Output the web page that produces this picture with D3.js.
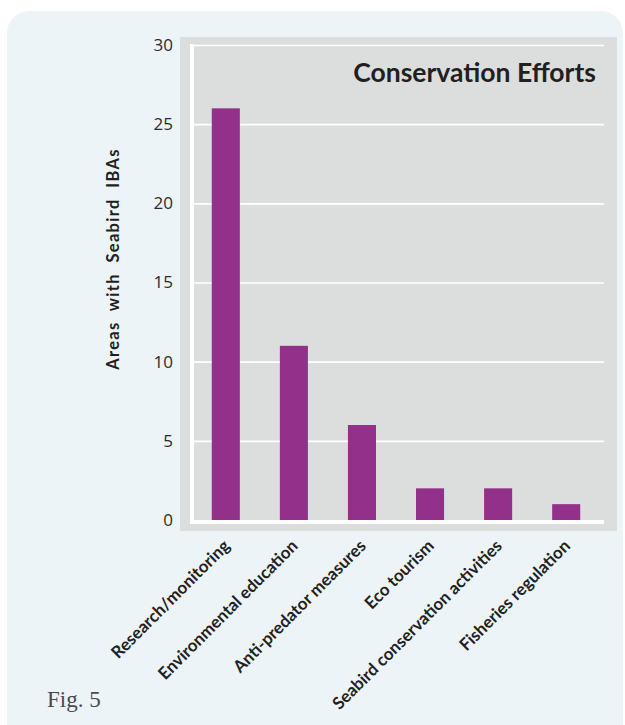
<!DOCTYPE html>
<html>
<head>
<meta charset="utf-8">
<script src="https://cdn.jsdelivr.net/npm/d3@7"></script>
<style>
  html, body { margin: 0; padding: 0; background: #ffffff; }
  svg { display: block; }
</style>
</head>
<body>
<svg id="chart" width="625" height="725"></svg>
<script>
// ---- data ----
const categories = [
  "Research/monitoring",
  "Environmental education",
  "Anti-predator measures",
  "Eco tourism",
  "Seabird conservation activities",
  "Fisheries regulation"
];
const values = [26, 11, 6, 2, 2, 1];
const yTicks = [0, 5, 10, 15, 20, 25, 30];
const chartTitle = "Conservation Efforts";
const yLabel = "Areas  with  Seabird  IBAs";
const figLabel = "Fig. 5";

// ---- layout ----
const svg = d3.select("#chart");
const plot = { left: 192, right: 604, top: 45, bottom: 520 };

svg.append("rect")
  .attr("x", 7).attr("y", 11).attr("width", 616).attr("height", 740)
  .attr("rx", 22).attr("fill", "#edf4f8");

svg.append("rect")
  .attr("x", 180).attr("y", 37).attr("width", 437).attr("height", 494)
  .attr("fill", "#dcdddd");

const x = d3.scaleBand()
  .domain(categories)
  .range([190, 602])
  .paddingInner(0.588)
  .paddingOuter(0.32);

const y = d3.scaleLinear()
  .domain([0, 30])
  .range([plot.bottom, plot.top]);

// y axis with grid lines
const yAxis = svg.append("g")
  .attr("transform", `translate(194,0)`)
  .call(d3.axisLeft(y)
    .tickValues(yTicks)
    .tickSize(-(plot.right - 194))
    .tickPadding(21));
yAxis.select(".domain").remove();
yAxis.selectAll(".tick line")
  .attr("stroke", "#ffffff")
  .attr("stroke-width", 1.6)
  .filter(d => d === 0).remove();
yAxis.selectAll(".tick text")
  .attr("fill", "#2b2b2b")
  .attr("font-family", "'Open Sans', sans-serif")
  .attr("font-size", 17);

// bars
svg.append("g").selectAll("rect")
  .data(values)
  .join("rect")
  .attr("x", (d, i) => x(categories[i]))
  .attr("width", x.bandwidth())
  .attr("y", d => y(d))
  .attr("height", d => y(0) - y(d))
  .attr("fill", "#92308a");

// white L axis lines
svg.append("line")
  .attr("x1", 192).attr("x2", 192)
  .attr("y1", plot.top - 1).attr("y2", y(0) + 4)
  .attr("stroke", "#ffffff").attr("stroke-width", 4);
svg.append("line")
  .attr("x1", 190).attr("x2", plot.right)
  .attr("y1", y(0) + 2).attr("y2", y(0) + 2)
  .attr("stroke", "#ffffff").attr("stroke-width", 4);

// x labels
svg.append("g").selectAll("text")
  .data(categories)
  .join("text")
  .attr("transform", d => `translate(${x(d) + x.bandwidth() / 2 + 5},547) rotate(-45)`)
  .attr("text-anchor", "end")
  .attr("font-family", "Lato, 'Open Sans', sans-serif")
  .attr("font-weight", "bold")
  .attr("font-size", 17)
  .attr("fill", "#231f20")
  .text(d => d);

// title
svg.append("text")
  .attr("x", 596).attr("y", 82)
  .attr("text-anchor", "end")
  .attr("font-family", "Lato, 'Open Sans', sans-serif")
  .attr("font-weight", "bold")
  .attr("font-size", 26.5)
  .attr("fill", "#231f20")
  .text(chartTitle);

// y label
svg.append("text")
  .attr("transform", "translate(119,259) rotate(-90)")
  .attr("text-anchor", "middle")
  .attr("font-family", "Lato, 'Open Sans', sans-serif")
  .attr("font-weight", "bold")
  .attr("font-size", 16.5)
  .attr("letter-spacing", 1.3)
  .attr("fill", "#231f20")
  .style("white-space", "pre")
  .text(yLabel);

// figure label
svg.append("text")
  .attr("x", 47).attr("y", 707)
  .attr("font-family", "'Liberation Serif', 'Times New Roman', serif")
  .attr("font-size", 23)
  .attr("fill", "#4a4a4a")
  .text(figLabel);
</script>
</body>
</html>
